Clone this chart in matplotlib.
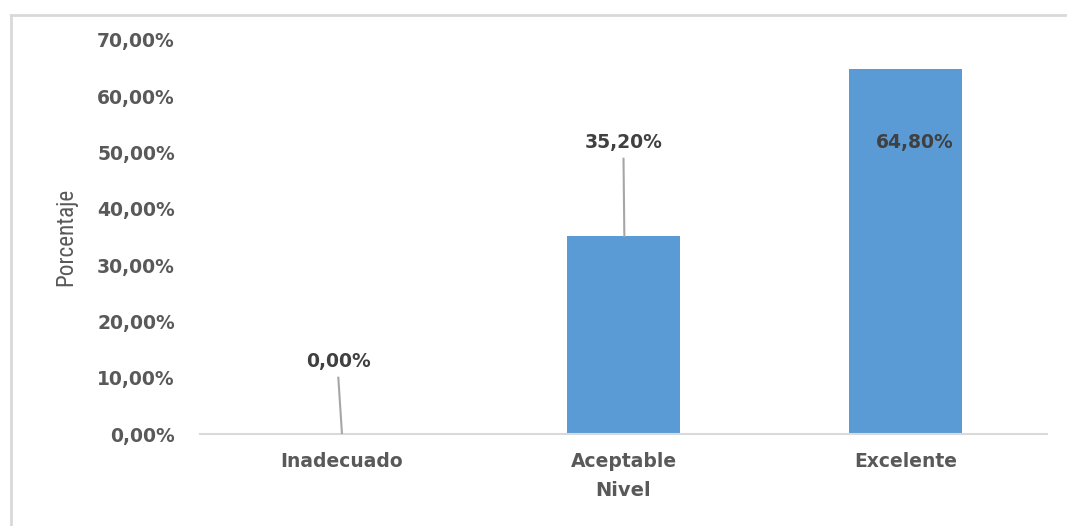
import matplotlib
matplotlib.use("Agg")
import matplotlib.pyplot as plt
from matplotlib.lines import Line2D

# data
niveles = ["Inadecuado", "Aceptable", "Excelente"]
porcentajes = [0.0, 35.2, 64.8]
etiquetas = ["0,00%", "35,20%", "64,80%"]
y_ticks = [0, 10, 20, 30, 40, 50, 60, 70]

bar_color = "#5b9bd5"
text_color = "#595959"
label_color = "#404040"
line_color = "#d9d9d9"

fig = plt.figure(figsize=(10.67, 5.26), dpi=100)
ax = fig.add_axes([0.1874, 0.1749, 0.7939, 0.7491])

x = list(range(len(niveles)))
ax.bar(x, porcentajes, width=0.4, color=bar_color, zorder=2)

ax.set_xlim(-0.5, 2.5)
ax.set_ylim(0, 70)
ax.set_yticks(y_ticks)
ax.set_yticklabels([f"{v:.2f}".replace(".", ",") + "%" for v in y_ticks])
ax.set_xticks(x)
ax.set_xticklabels(niveles)

for s in ["top", "right", "left"]:
    ax.spines[s].set_visible(False)
ax.spines["bottom"].set_color(line_color)
ax.spines["bottom"].set_linewidth(1.5)
ax.tick_params(length=0)
ax.tick_params(axis="y", pad=18)
ax.tick_params(axis="x", pad=13)
for t in ax.get_yticklabels() + ax.get_xticklabels():
    t.set_fontweight("bold")
    t.set_fontsize(13.5)
    t.set_color(text_color)

ax.set_xlabel("Nivel", fontsize=14, fontweight="bold", color=text_color, labelpad=7)
ax.set_ylabel("Porcentaje", fontsize=16.7, color=text_color, labelpad=14,
              family=["Liberation Sans Narrow", "DejaVu Sans Condensed",
                      "Roboto Condensed", "DejaVu Sans"])

# data labels with leader lines
label_pos = [(-0.01, 12.8), (0.0, 51.7), (0.03, 51.7)]
for i, (v, txt) in enumerate(zip(porcentajes, etiquetas)):
    dx, ly = label_pos[i]
    ax.text(i + dx, ly, txt, ha="center", va="center", fontsize=13.5,
            fontweight="bold", color=label_color, zorder=4)
    if ly > v + 4:
        ax.plot([i + dx, i + 0.003], [ly - 2.8, v], color="#a6a6a6",
                linewidth=1.5, zorder=3)

# outer frame
fig.add_artist(Line2D([11 / 1067, 1.0], [1 - 15 / 526] * 2,
                      transform=fig.transFigure, color=line_color, linewidth=2))
fig.add_artist(Line2D([11 / 1067] * 2, [0.0, 1 - 15 / 526],
                      transform=fig.transFigure, color=line_color, linewidth=2))

fig.savefig("out.png", dpi=100)
